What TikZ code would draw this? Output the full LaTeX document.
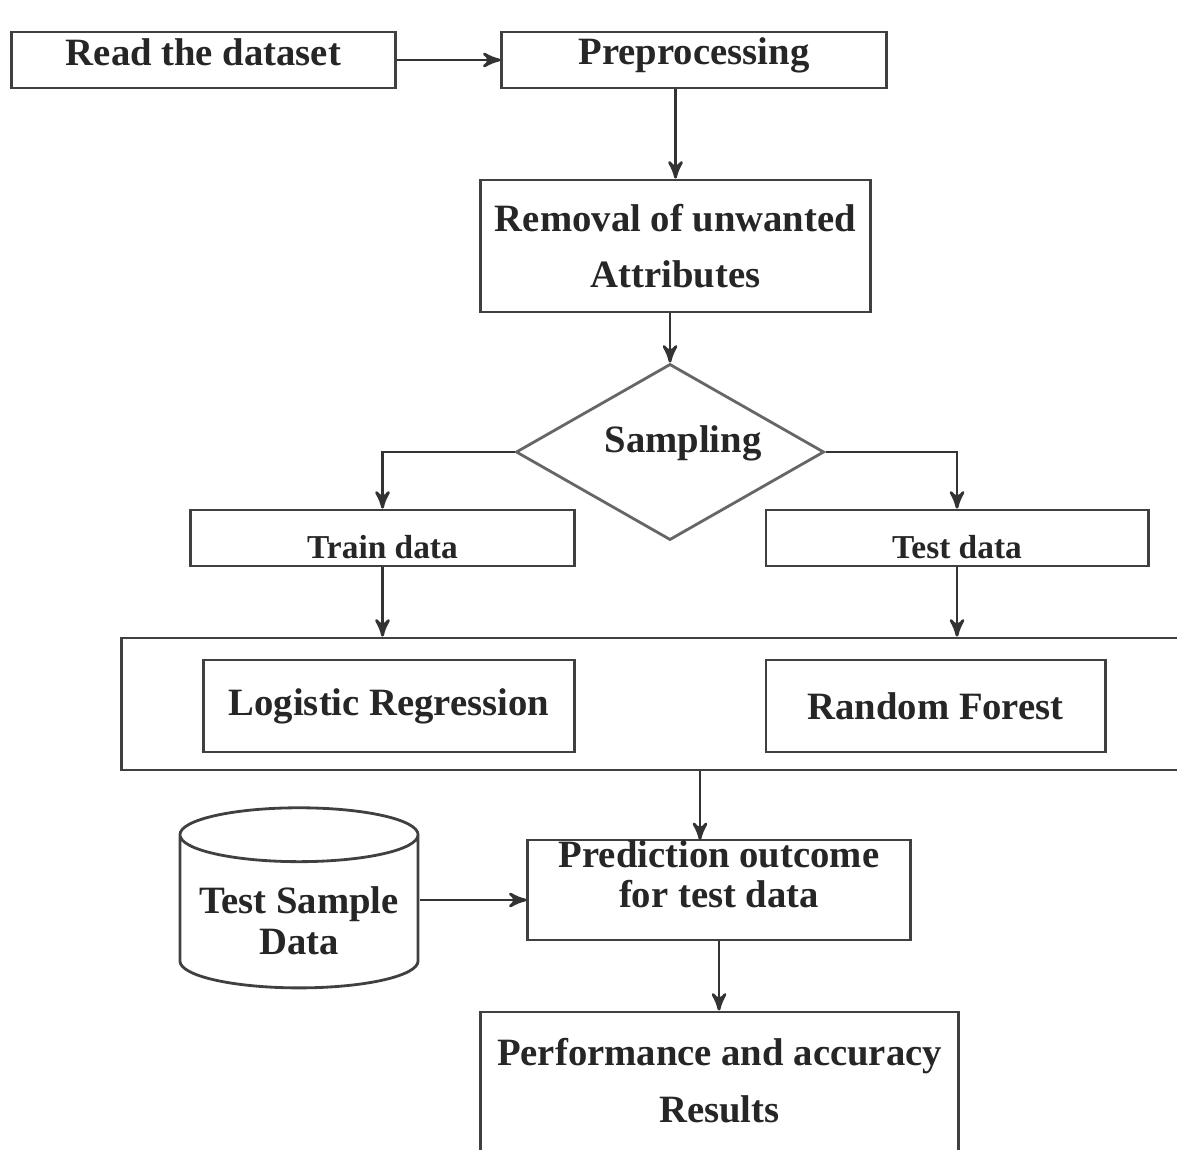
\documentclass[tikz,border=0pt]{standalone}
\usepackage{fontspec}
\setmainfont{Liberation Serif}
\usetikzlibrary{arrows}
\usetikzlibrary{shapes.geometric}

\tikzset{
  box/.style={draw=black!75, thick, rectangle, inner sep=0pt, align=center,
    text=black!85, font=\fontsize{11}{16}\selectfont\bfseries},
  smallbox/.style={box, text height=11.5pt, font=\fontsize{9.5}{12}\selectfont\bfseries},
  decision/.style={draw=black!60, thick, diamond, inner sep=0pt, text=black!85,
    font=\fontsize{11}{14}\selectfont\bfseries},
  store/.style={draw=black!75, thick, cylinder, shape border rotate=90, aspect=0.27,
    inner sep=0pt, align=center, text=black!85, font=\fontsize{11}{11.5}\selectfont\bfseries},
  flow/.style={draw=black!80, thick, ->, >=stealth'}
}

\begin{document}
\begin{tikzpicture}[x=0.01cm, y=-0.01cm]
\useasboundingbox (0,0) rectangle (1177,1149);

\node[box, text depth=4.5pt, minimum width=3.83cm, minimum height=0.56cm] (read) at (203.5,60) {Read the dataset};
\node[box, text depth=5.2pt, minimum width=3.84cm, minimum height=0.56cm] (prep) at (694,60) {Preprocessing};
\node[box, minimum width=3.89cm, minimum height=1.32cm] (rem) at (675.5,246) {Removal of unwanted\\Attributes};
\node[decision, minimum width=3.08cm, minimum height=1.76cm] (samp) at (670,452)
  {\raisebox{0pt}[0pt][0pt]{\makebox[0pt]{\hspace{0.26cm}Sampling}}};
\node[smallbox, minimum width=3.83cm, minimum height=0.56cm] (train) at (382.5,538) {Train data};
\node[smallbox, minimum width=3.82cm, minimum height=0.56cm] (test) at (957,538) {Test data};

% models
\node[box, minimum width=11.18cm, minimum height=1.32cm] (models) at (681,704) {};
\node[box, minimum width=3.70cm, minimum height=0.92cm] (lr) at (389,706) {Logistic Regression};
\node[box, minimum width=3.39cm, minimum height=0.92cm] (rf) at (935.5,706) {Random Forest};

\node[store, text height=24pt, minimum width=2.38cm, minimum height=1.80cm] (tsd) at (299,912) {Test Sample\\Data};
\node[box, text depth=9pt, minimum width=3.82cm, minimum height=1.00cm, font=\fontsize{11}{11.5}\selectfont\bfseries] (pred) at (719,890) {Prediction outcome\\for test data};
\node[box, text depth=4.6pt, minimum width=4.77cm, minimum height=1.53cm] (perf) at (719.5,1088.5) {Performance and accuracy\\Results};
\coordinate (pin) at (700,840);

\draw[flow] (read.east) -- (prep.west |- read.east);
\draw[flow] (rem.north |- prep.south) -- (rem.north);
\draw[flow] (rem.south -| samp.north) -- (samp.north);
\draw[flow] (samp.west) -| (train.north);
\draw[flow] (samp.east) -| (test.north);
\draw[flow] (train.south) -- (train.south |- models.north);
\draw[flow] (test.south) -- (test.south |- models.north);
\draw[flow] (models.south -| pin) -- (pin);
\draw[flow] ([yshift=0.12cm]tsd.east) -- ([yshift=0.12cm]tsd.east -| pred.west);
\draw[flow] (pred.south) -- (pred.south |- perf.north);
\end{tikzpicture}
\end{document}
